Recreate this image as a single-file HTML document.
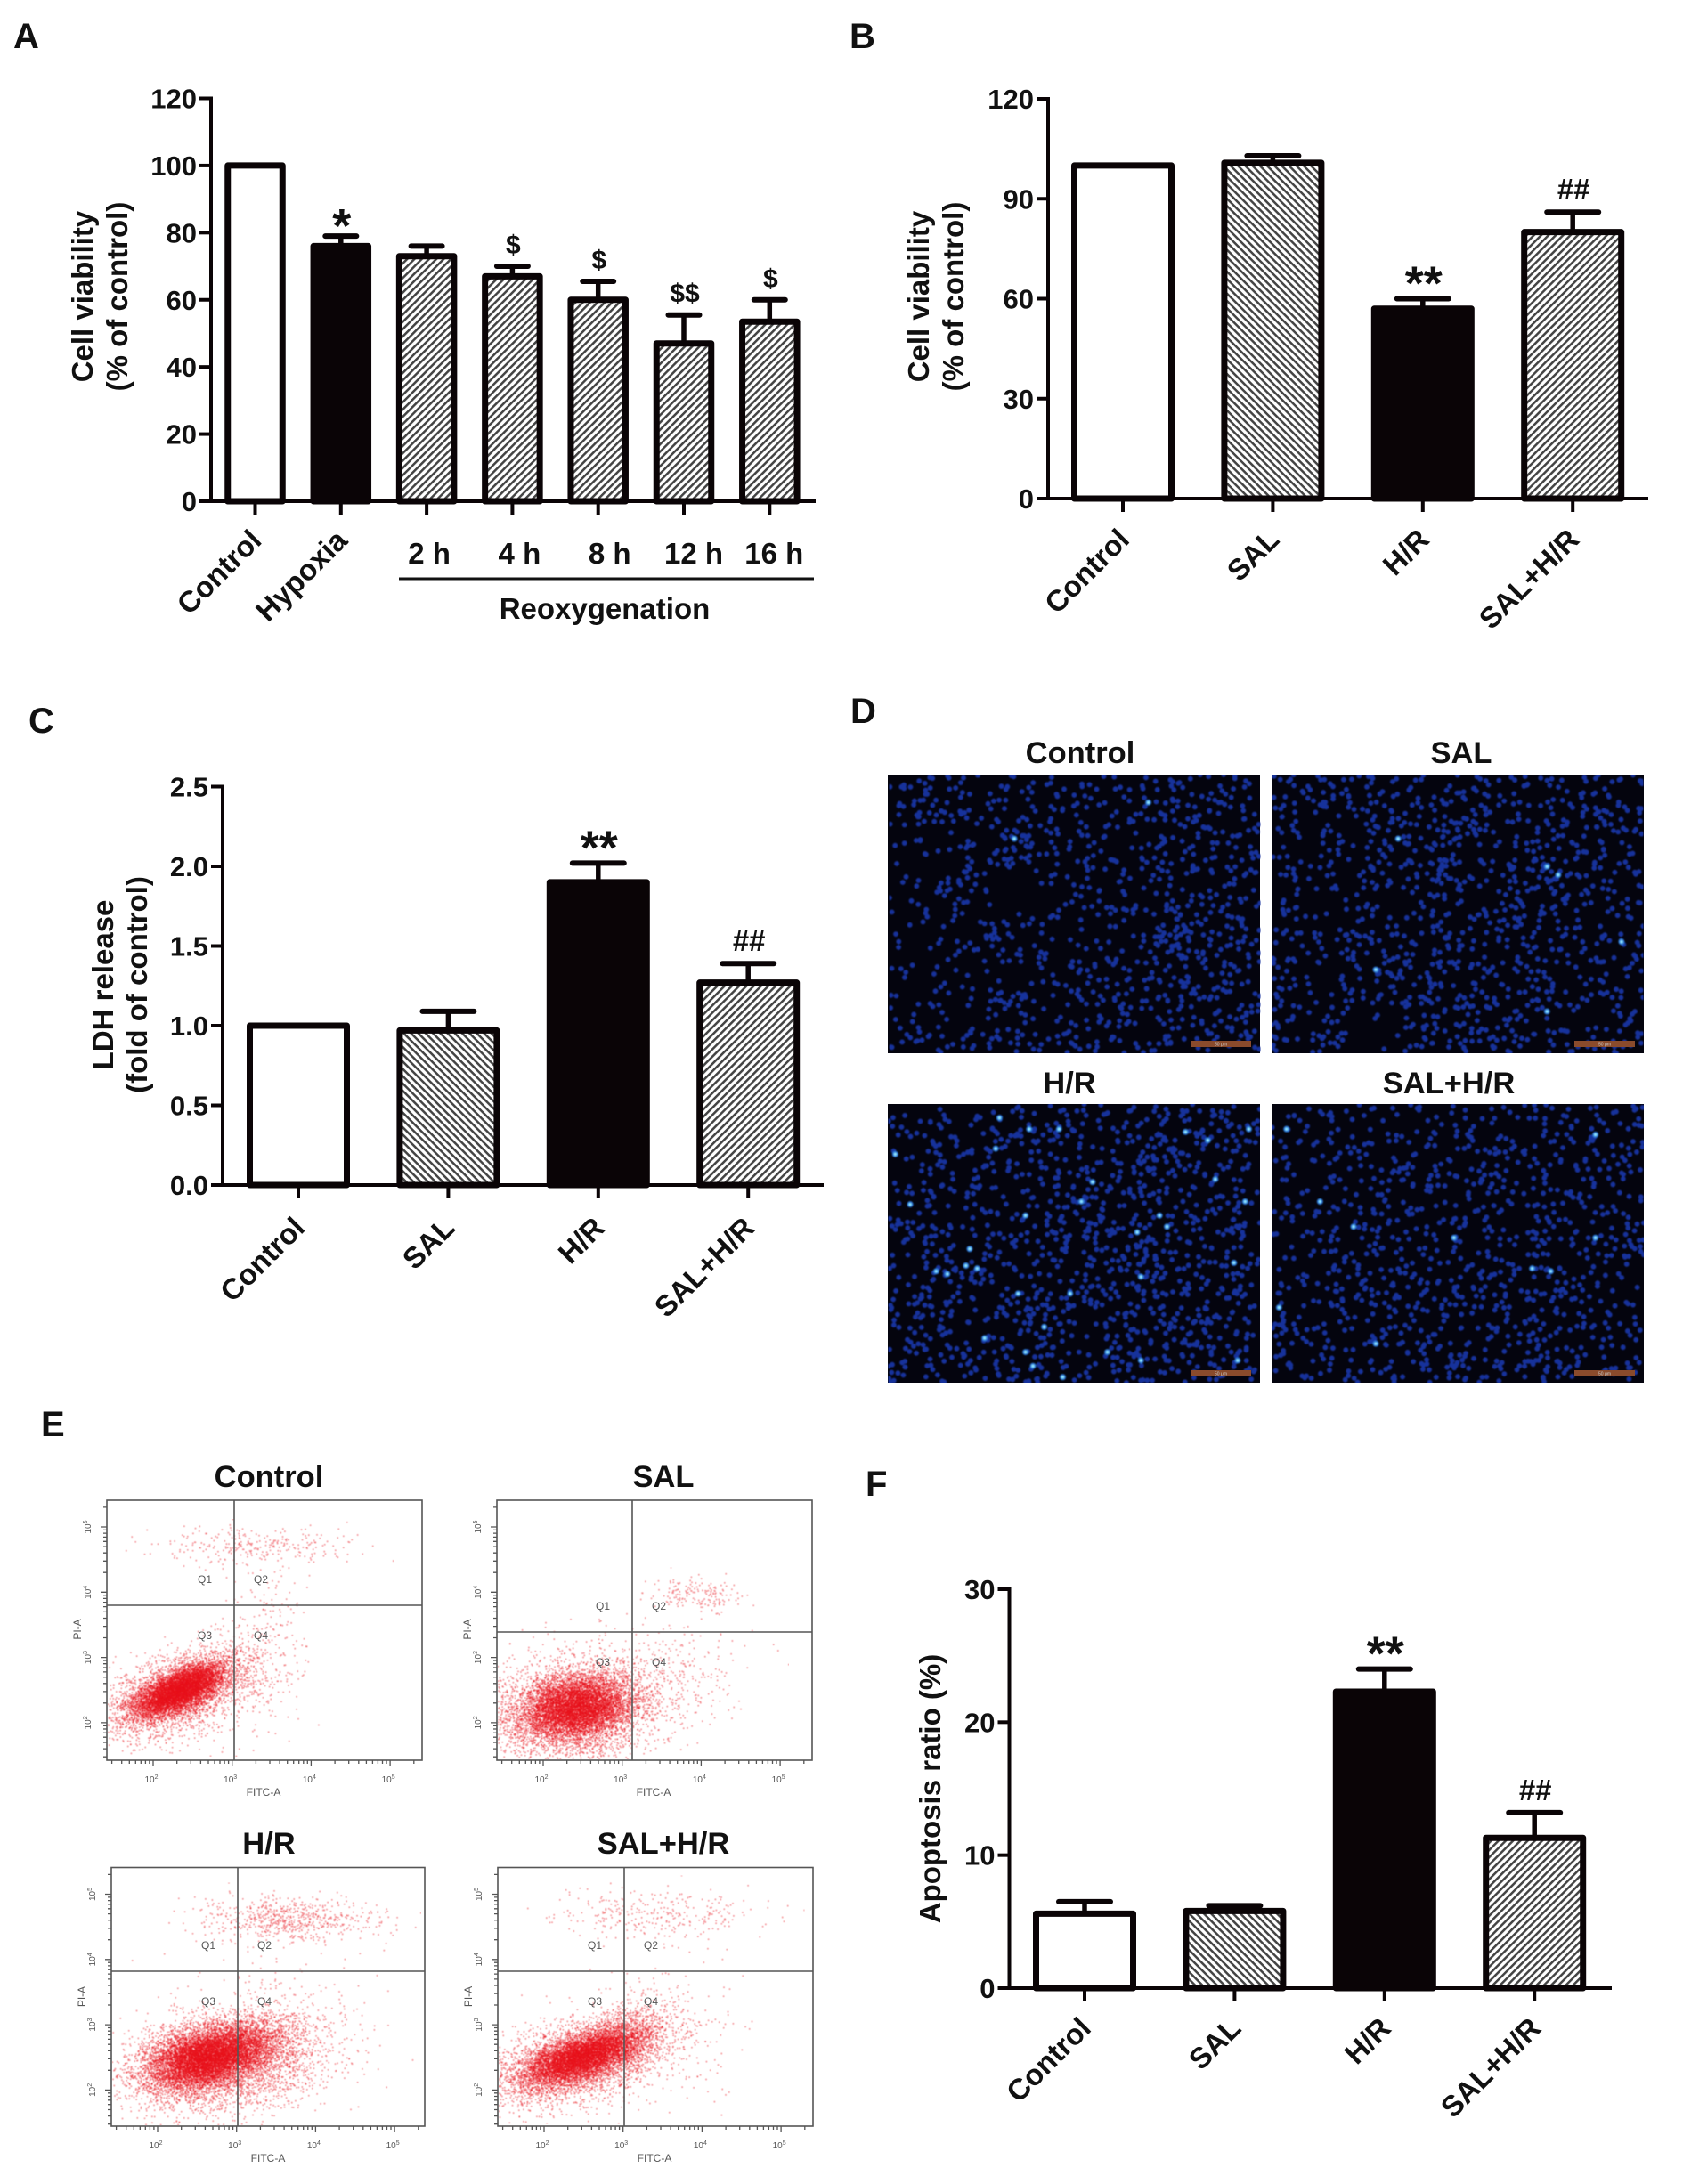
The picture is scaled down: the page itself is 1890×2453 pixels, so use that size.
<!DOCTYPE html>
<html lang="en">
<head>
<meta charset="utf-8">
<title>Cell viability, LDH release and apoptosis figure</title>
<style>
html,body{margin:0;padding:0;background:#fff}
svg{display:block}
text{font-family:"Liberation Sans",Arial,sans-serif}
.panel{font-size:40px;font-weight:bold;fill:#111}
.ptitle{font-size:34.5px;font-weight:bold;fill:#111;text-anchor:middle}
</style>
</head>
<body>
<svg id="figure" xmlns="http://www.w3.org/2000/svg" width="1890" height="2453" viewBox="0 0 1890 2453">
  <defs>
    <pattern id="hatch-forward" patternUnits="userSpaceOnUse" width="5.8" height="5.8" patternTransform="rotate(-45)">
      <rect width="5.8" height="5.8" fill="#fff"/><rect width="5.8" height="2.5" fill="#444"/>
    </pattern>
    <pattern id="hatch-back" patternUnits="userSpaceOnUse" width="5.8" height="5.8" patternTransform="rotate(45)">
      <rect width="5.8" height="5.8" fill="#fff"/><rect width="5.8" height="2.5" fill="#444"/>
    </pattern>
    <filter id="soft-cells" x="0" y="0" width="100%" height="100%"><feGaussianBlur stdDeviation="0.9"/></filter>
    <filter id="soft-dots" x="0" y="0" width="100%" height="100%"><feGaussianBlur stdDeviation="0.45"/></filter>
  </defs>

  <rect width="1890" height="2453" fill="#fff"/>

  <text class="panel" x="15" y="54">A</text>
  <text class="panel" x="954" y="54">B</text>
  <text class="panel" x="32" y="823">C</text>
  <text class="panel" x="955" y="812">D</text>
  <text class="panel" x="46" y="1613">E</text>
  <text class="panel" x="972" y="1680">F</text>

  <g id="chart-a"></g>
  <g id="chart-b"></g>
  <g id="chart-c"></g>
  <g id="chart-f"></g>

  <g id="micrographs">
    <text class="ptitle" x="1213" y="857">Control</text>
    <text class="ptitle" x="1641" y="857">SAL</text>
    <text class="ptitle" x="1201" y="1228">H/R</text>
    <text class="ptitle" x="1627" y="1228">SAL+H/R</text>
  </g>

  <g id="flow-plots">
    <text class="ptitle" x="302" y="1670">Control</text>
    <text class="ptitle" x="745" y="1670">SAL</text>
    <text class="ptitle" x="302" y="2082">H/R</text>
    <text class="ptitle" x="745" y="2082">SAL+H/R</text>
  </g>
</svg>

<script>
/* ---------- Panel A data ---------- */
const categoriesA = ['Control', 'Hypoxia', '2 h', '4 h', '8 h', '12 h', '16 h'];
const valuesA = [100, 76, 73, 67, 60, 47, 53.5];
const errorTopsA = [100, 79, 76, 70, 65.5, 55.5, 60];
const marksA = ['', '*', '', '$', '$', '$$', '$'];
const ticksA = [0, 20, 40, 60, 80, 100, 120];
const tickLabelsA = ['0', '20', '40', '60', '80', '100', '120'];

/* ---------- Panel B data ---------- */
const categoriesB = ['Control', 'SAL', 'H/R', 'SAL+H/R'];
const valuesB = [100, 100.8, 57, 80];
const errorTopsB = [100, 102.9, 60, 86];
const marksB = ['', '', '**', '##'];
const ticksB = [0, 30, 60, 90, 120];
const tickLabelsB = ['0', '30', '60', '90', '120'];

/* ---------- Panel C data ---------- */
const categoriesC = ['Control', 'SAL', 'H/R', 'SAL+H/R'];
const valuesC = [1.0, 0.97, 1.9, 1.27];
const errorTopsC = [1.0, 1.09, 2.02, 1.39];
const marksC = ['', '', '**', '##'];
const ticksC = [0, 0.5, 1, 1.5, 2, 2.5];
const tickLabelsC = ['0.0', '0.5', '1.0', '1.5', '2.0', '2.5'];

/* ---------- Panel F data ---------- */
const categoriesF = ['Control', 'SAL', 'H/R', 'SAL+H/R'];
const valuesF = [5.6, 5.8, 22.3, 11.3];
const errorTopsF = [6.5, 6.2, 24, 13.2];
const marksF = ['', '', '**', '##'];
const ticksF = [0, 10, 20, 30];
const tickLabelsF = ['0', '10', '20', '30'];

/* ---------- Panel D: visually estimated relative cell density per grid square ---------- */
const cellDensityControl = ['35523334335353','37533343249464','24225644323554','12259634344535','12740134334345','23510024636453','11234322219945','12345412329855','31122336454564','14137335534854','31122323645355','35455465435456'];
const cellDensitySal = ['55554335454454','54453454445465','43345697345455','32435694365544','52363385369453','50240342456533','43254264554324','43454354453335','52138664454253','62335756646443','52410556541125','65501456654566'];
const cellDensityHr = ['33233354345574','24348564449845','25383444498533','34452453574434','24233468444454','85334689674546','24443354695454','25682325566535','48526785455545','36433751858954','45545542574854','83347824464365'];
const cellDensitySalHr = ['23332433344346','33343335334354','32435343543436','21434635634433','53333443434442','23354343546346','22453432442347','33556545535432','22556555547432','93334343564434','43334634434342','34446565668444'];
/* bright nuclei, as percent across / percent down the micrograph */
const brightControl = [[70,10],[34,23]];
const brightSal = [[34,23],[74,33],[77,36],[94,60],[74,85],[28,70]];
const brightHr = [[80,10],[86,13],[38,9],[30,5],[46,9],[97,9],[2,18],[29,16],[52,35],[55,28],[67,46],[73,40],[75,44],[22,52],[21,58],[24,59],[13,60],[16,61],[49,68],[35,68],[68,62],[42,80],[26,84],[37,89],[39,94],[47,98],[68,92],[59,89],[93,57],[94,92],[88,27],[96,35],[6,36],[37,40]];
const brightSalHr = [[4,9],[87,11],[13,35],[22,44],[49,48],[70,59],[75,60],[2,73],[28,86],[87,48]];

/* ---------- Panel E: estimated populations
   [log10 FITC mean, log10 PI mean, sd FITC, sd PI, correlation, dot count] ---------- */
const populationsControl = [[2.34,2.50,0.29,0.21,0.66,7000],[2.30,2.42,0.48,0.34,0.40,2300],[3.32,4.70,0.60,0.15,0,280],[3.32,2.95,0.30,0.60,0.10,330]];
const populationsSal = [[2.42,2.23,0.34,0.24,0.20,7000],[2.35,2.15,0.60,0.44,0.15,3000],[3.94,3.94,0.30,0.13,0,170],[3.60,2.72,0.50,0.45,0.10,240]];
const populationsHr = [[2.65,2.50,0.40,0.24,0.40,9000],[2.90,2.45,0.58,0.40,0.20,3300],[3.60,4.62,0.60,0.17,0,640],[3.60,2.90,0.55,0.60,0.10,300]];
const populationsSalHr = [[2.47,2.50,0.36,0.22,0.62,7000],[2.45,2.45,0.58,0.36,0.45,2600],[3.12,2.74,0.20,0.30,0.20,520],[3.40,4.67,0.65,0.20,0,300],[3.50,2.90,0.50,0.60,0.10,220]];

const NS = 'http://www.w3.org/2000/svg';

function mk(tag, attrs, parent, text) {
  const node = document.createElementNS(NS, tag);
  for (const k in attrs) node.setAttribute(k, attrs[k]);
  if (text !== undefined) node.textContent = text;
  parent.appendChild(node);
  return node;
}

/* small seeded generator: only used to scatter texture dots */
function seeded(seed) {
  let a = seed >>> 0;
  return function () {
    a = (a + 0x6D2B79F5) >>> 0;
    let t = a;
    t = Math.imul(t ^ (t >>> 15), t | 1);
    t ^= t + Math.imul(t ^ (t >>> 7), t | 61);
    return ((t ^ (t >>> 14)) >>> 0) / 4294967296;
  };
}

function barChart(cfg) {
  const g = document.getElementById(cfg.id);
  const yScale = v => cfg.bottom - (v / cfg.yMax) * (cfg.bottom - cfg.top);
  const xScale = i => cfg.first + i * cfg.step;

  /* bars */
  cfg.values.forEach((v, i) => {
    const cx = xScale(i);
    const yTop = yScale(cfg.errors[i]);
    const yVal = yScale(v);
    if (cfg.errors[i] > v) {
      const stem = mk('line', {x1: cx, x2: cx, y1: yVal, y2: yTop, stroke: '#0a0406', 'stroke-width': 5.5}, g);
      
      
      const cap = mk('line', {x1: cx - cfg.capW / 2, x2: cx + cfg.capW / 2, y1: yTop, y2: yTop, stroke: '#0a0406', 'stroke-width': 6, 'stroke-linecap': 'round'}, g);
      
      
    }
    const bar = mk('rect', {x: cx - cfg.barW / 2, y: yVal, width: cfg.barW, height: cfg.bottom - yVal, fill: cfg.fills[i], stroke: '#0a0406', 'stroke-width': 7, 'stroke-linejoin': 'round'}, g);
    
    

    const m = cfg.marks[i];
    if (m) {
      const star = m[0] === '*';
      const size = star ? 54 : (m[0] === '#' ? 33 : 30);
      const drop = m === '*' ? 7 : (m === '**' ? 1 : -14);
      const mark = mk('text', {x: cx + 1, y: yTop + drop, 'text-anchor': 'middle', 'font-size': size, 'font-weight': 'bold', fill: '#111'}, g, m);
      
      
    }
  });

  /* axes */
  const yAxis = mk('line', {x1: cfg.left, x2: cfg.left, y1: cfg.top - 2, y2: cfg.bottom + 2, stroke: '#0a0406', 'stroke-width': 4}, g);
  
  
  const xAxis = mk('line', {x1: cfg.left - 13, x2: cfg.right, y1: cfg.bottom, y2: cfg.bottom, stroke: '#0a0406', 'stroke-width': 4}, g);
  
  

  cfg.ticks.forEach((t, i) => {
    const y = yScale(t);
    const tick = mk('line', {x1: cfg.left - 13, x2: cfg.left, y1: y, y2: y, stroke: '#0a0406', 'stroke-width': 4}, g);
    
    
    const label = mk('text', {x: cfg.left - 16, y: y + 11, 'text-anchor': 'end', 'font-size': 31, 'font-weight': 'bold', fill: '#111'}, g, cfg.tickLabels[i]);
    
    
  });

  cfg.categories.forEach((c, i) => {
    const x = xScale(i);
    const tick = mk('line', {x1: x, x2: x, y1: cfg.bottom, y2: cfg.bottom + 15, stroke: '#0a0406', 'stroke-width': 4}, g);
    
    
    const flat = cfg.flatOffsets && cfg.flatOffsets[i] !== null && cfg.flatOffsets[i] !== undefined;
    const label = flat
      ? mk('text', {x: x + cfg.flatOffsets[i], y: cfg.flatBaseline, 'text-anchor': 'middle', 'font-size': 33, 'font-weight': 'bold', fill: '#111'}, g, c)
      : mk('text', {x: x + 9, y: cfg.bottom + cfg.labelDrop, 'text-anchor': 'end', 'font-size': 33, 'font-weight': 'bold', fill: '#111', transform: 'rotate(-45 ' + (x + 9) + ' ' + (cfg.bottom + cfg.labelDrop) + ')'}, g, c);
    
    
  });

  /* y axis title */
  cfg.title.forEach((line, i) => {
    const x = cfg.titleX[i];
    const t = mk('text', {x: x, y: cfg.titleY, 'text-anchor': 'middle', 'font-size': 33, 'font-weight': 'bold', fill: '#111', transform: 'rotate(-90 ' + x + ' ' + cfg.titleY + ')'}, g, line);
    
    
  });
}

const OPEN = '#fff', SOLID = '#0a0406', FWD = 'url(#hatch-forward)', BACK = 'url(#hatch-back)';

barChart({id: 'chart-a', categories: categoriesA, values: valuesA, errors: errorTopsA, marks: marksA, ticks: ticksA, tickLabels: tickLabelsA,
  fills: [OPEN, SOLID, FWD, FWD, FWD, FWD, FWD], left: 237, right: 916, top: 110.5, bottom: 563, yMax: 120, first: 286.5, step: 96.3, barW: 61.5, capW: 35, labelDrop: 46,
  flatOffsets: [null, null, 3, 8, 13, 11, 5], flatBaseline: 633, title: ['Cell viability', '(% of control)'], titleX: [104, 143], titleY: 333});

barChart({id: 'chart-b', categories: categoriesB, values: valuesB, errors: errorTopsB, marks: marksB, ticks: ticksB, tickLabels: tickLabelsB,
  fills: [OPEN, BACK, SOLID, FWD], left: 1177, right: 1851, top: 111, bottom: 560, yMax: 120, first: 1261, step: 168.4, barW: 109, capW: 58, labelDrop: 48,
  title: ['Cell viability', '(% of control)'], titleX: [1043, 1082], titleY: 333});

barChart({id: 'chart-c', categories: categoriesC, values: valuesC, errors: errorTopsC, marks: marksC, ticks: ticksC, tickLabels: tickLabelsC,
  fills: [OPEN, BACK, SOLID, FWD], left: 250, right: 925, top: 883.5, bottom: 1331, yMax: 2.5, first: 335, step: 168.4, barW: 109, capW: 58, labelDrop: 50,
  title: ['LDH release', '(fold of control)'], titleX: [127, 165], titleY: 1106});

barChart({id: 'chart-f', categories: categoriesF, values: valuesF, errors: errorTopsF, marks: marksF, ticks: ticksF, tickLabels: tickLabelsF,
  fills: [OPEN, BACK, SOLID, FWD], left: 1133.5, right: 1810, top: 1785, bottom: 2233, yMax: 30, first: 1218, step: 168.4, barW: 109, capW: 58, labelDrop: 47,
  title: ['Apoptosis ratio (%)'], titleX: [1056], titleY: 2009});

/* ---------- Reoxygenation bracket (panel A) ---------- */
(function () {
  const g = document.getElementById('chart-a');
  const rule = mk('line', {x1: 448, x2: 914, y1: 650, y2: 650, stroke: '#111', 'stroke-width': 3}, g);
  
  
  const label = mk('text', {x: 679, y: 695, 'text-anchor': 'middle', 'font-size': 33, 'font-weight': 'bold', fill: '#111'}, g, 'Reoxygenation');
  
  
})();

/* ---------- Panel D micrographs ---------- */
function micrograph(name, x, y, w, h, density, bright, seed) {
  const host = document.getElementById('micrographs');
  const g = mk('g', {}, host);
  
  
  const bg = mk('rect', {x: x, y: y, width: w, height: h, fill: '#04040e'}, g);
  
  
  const rnd = seeded(seed);
  const rows = density.length, cols = density[0].length;
  let d = '';
  for (let r = 0; r < rows; r++) {
    for (let c = 0; c < cols; c++) {
      const n = Math.round(+density[r][c] * 1.5);
      for (let k = 0; k < n; k++) {
        const px = x + (c + rnd()) * w / cols;
        const py = y + (r + rnd()) * h / rows;
        d += 'M' + px.toFixed(1) + ' ' + py.toFixed(1) + 'h.01';
      }
    }
  }
  const clipped = mk('g', {filter: 'url(#soft-cells)'}, g);
  
  
  mk('path', {d: d, stroke: '#16329c', 'stroke-width': 5.8, 'stroke-linecap': 'round', fill: 'none'}, clipped);
  bright.forEach(p => {
    const cx = x + p[0] / 100 * w, cy = y + p[1] / 100 * h;
    mk('circle', {cx: cx, cy: cy, r: 3.5, fill: '#2a78d8'}, clipped);
    mk('circle', {cx: cx, cy: cy, r: 1.6, fill: '#8fe8ff'}, clipped);
  });
  const bar = mk('rect', {x: x + w - 78, y: y + h - 14, width: 68, height: 7, fill: '#8a4b2c'}, g);
  
  
  const t = mk('text', {x: x + w - 44, y: y + h - 8.5, 'text-anchor': 'middle', 'font-size': 5, fill: '#ccc'}, g, '50 μm');
  
  
}
micrograph('micrograph-control', 997, 870, 418, 313, cellDensityControl, brightControl, 11);
micrograph('micrograph-sal', 1428, 870, 418, 313, cellDensitySal, brightSal, 23);
micrograph('micrograph-hr', 997, 1240, 418, 313, cellDensityHr, brightHr, 37);
micrograph('micrograph-sal-hr', 1428, 1240, 418, 313, cellDensitySalHr, brightSalHr, 41);

/* ---------- Panel E flow plots ---------- */
function flowPlot(name, left, top, w, h, gateX, gateY, populations, seed) {
  const host = document.getElementById('flow-plots');
  const g = mk('g', {}, host);
  
  
  const xScale = lg => left + 52 + (lg - 2) * 88.7;
  const yScale = lg => top + 30 + (5 - lg) * 73.3;
  const right = left + w, bottom = top + h;
  const rnd = seeded(seed);
  const gauss = () => Math.sqrt(-2 * Math.log(1 - rnd())) * Math.cos(2 * Math.PI * rnd());

  /* dots: painted in batches so overlapping batches build up to solid red */
  const dots = mk('g', {filter: 'url(#soft-dots)'}, g);
  
  
  populations.forEach(pop => {
    const [mx, my, sx, sy, r, count] = pop;
    const batch = 200;
    for (let b = 0; b < count; b += batch) {
      let d = '';
      for (let i = b; i < Math.min(count, b + batch); i++) {
        const u = gauss(), v = gauss();
        const px = xScale(mx + sx * u);
        const py = yScale(my + sy * (r * u + Math.sqrt(1 - r * r) * v));
        if (px > left + 1 && px < right - 1 && py > top + 1 && py < bottom - 1) {
          d += 'M' + px.toFixed(1) + ' ' + py.toFixed(1) + 'h.01';
        }
      }
      mk('path', {d: d, stroke: '#e8101c', 'stroke-width': 1.7, 'stroke-linecap': 'round', 'stroke-opacity': 0.55, fill: 'none'}, dots);
    }
  });

  const frame = mk('rect', {x: left, y: top, width: w, height: h, fill: 'none', stroke: '#555', 'stroke-width': 1.6}, g);
  
  
  const gv = mk('line', {x1: gateX, x2: gateX, y1: top, y2: bottom, stroke: '#555', 'stroke-width': 1.6}, g);
  
  
  const gh = mk('line', {x1: left, x2: right, y1: gateY, y2: gateY, stroke: '#555', 'stroke-width': 1.6}, g);
  
  

  /* log ticks */
  let ticks = '';
  for (let dec = 1; dec <= 5; dec++) {
    for (let m = 1; m <= 9; m++) {
      const lg = dec + Math.log10(m);
      const len = m === 1 ? 7 : 4;
      const px = xScale(lg), py = yScale(lg);
      if (px > left && px < right) ticks += 'M' + px.toFixed(1) + ' ' + bottom + 'v' + len;
      if (py > top && py < bottom) ticks += 'M' + left + ' ' + py.toFixed(1) + 'h' + (-len);
    }
  }
  const tp = mk('path', {d: ticks, stroke: '#555', 'stroke-width': 1.3, fill: 'none'}, g);
  
  

  [2, 3, 4, 5].forEach(dec => {
    const tx = mk('text', {x: xScale(dec) - 2, y: bottom + 25, 'text-anchor': 'middle', 'font-size': 10, fill: '#555'}, g);
    
    
    tx.appendChild(document.createTextNode('10'));
    mk('tspan', {dy: -4, 'font-size': 7}, tx, String(dec));
    const ly = yScale(dec), lx = left - 18;
    const ty = mk('text', {x: lx, y: ly, 'text-anchor': 'middle', 'font-size': 10, fill: '#555', transform: 'rotate(-90 ' + lx + ' ' + ly + ')'}, g);
    
    
    ty.appendChild(document.createTextNode('10'));
    mk('tspan', {dy: -4, 'font-size': 7}, ty, String(dec));
  });

  const xt = mk('text', {x: left + 176, y: bottom + 40, 'text-anchor': 'middle', 'font-size': 12, fill: '#555'}, g, 'FITC-A');
  
  
  const py = top + 145, px = left - 29;
  const yt = mk('text', {x: px, y: py, 'text-anchor': 'middle', 'font-size': 12, fill: '#555', transform: 'rotate(-90 ' + px + ' ' + py + ')'}, g, 'PI-A');
  
  

  const q1 = mk('text', {x: gateX - 33, y: gateY - 25, 'text-anchor': 'middle', 'font-size': 12, fill: '#555'}, g, 'Q1');
  
  
  const q2 = mk('text', {x: gateX + 30, y: gateY - 25, 'text-anchor': 'middle', 'font-size': 12, fill: '#555'}, g, 'Q2');
  
  
  const q3 = mk('text', {x: gateX - 33, y: gateY + 38, 'text-anchor': 'middle', 'font-size': 12, fill: '#555'}, g, 'Q3');
  
  
  const q4 = mk('text', {x: gateX + 30, y: gateY + 38, 'text-anchor': 'middle', 'font-size': 12, fill: '#555'}, g, 'Q4');
  
  
}
flowPlot('flow-plot-control', 120, 1685, 354, 292, 263, 1803, populationsControl, 101);
flowPlot('flow-plot-sal', 558, 1685, 354, 292, 710, 1833, populationsSal, 202);
flowPlot('flow-plot-hr', 125, 2097.5, 352, 290.5, 267, 2214, populationsHr, 303);
flowPlot('flow-plot-sal-hr', 559, 2097.5, 354, 290.5, 701, 2214, populationsSalHr, 404);
</script>
</body>
</html>
